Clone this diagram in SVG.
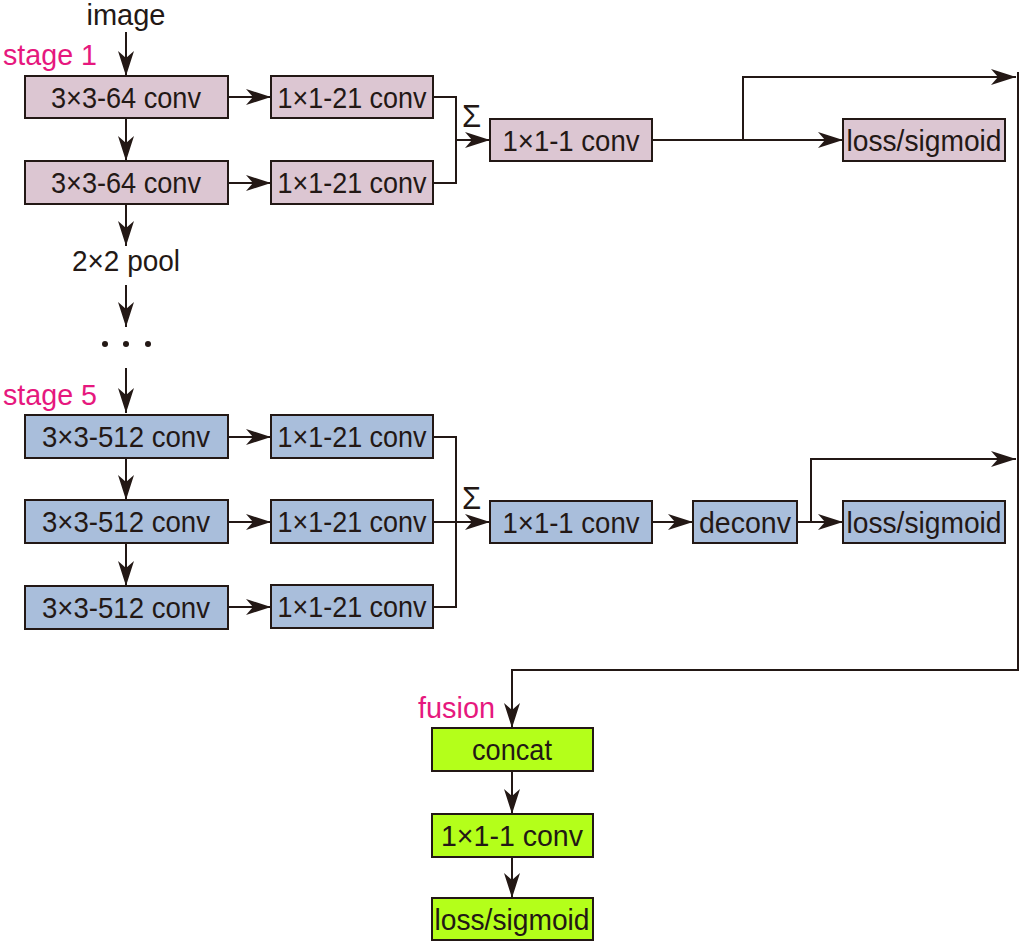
<svg xmlns="http://www.w3.org/2000/svg" width="1024" height="948" viewBox="0 0 1024 948">
<defs>
<marker id="ah" markerUnits="userSpaceOnUse" markerWidth="26" markerHeight="20" viewBox="0 0 26 20" refX="25" refY="10" orient="auto">
<path d="M0,2 L25,10 L0,18 L7,10 Z" fill="#231815"/>
</marker>
<style>
.pink{fill:#dcc6d2;stroke:#231815;stroke-width:2}
.blue{fill:#a9bedb;stroke:#231815;stroke-width:2}
.green{fill:#b4ff1a;stroke:#231815;stroke-width:2}
text{font-family:"Liberation Sans",Arial,sans-serif;font-size:30px;fill:#231815}
.t{text-anchor:middle}
.lab{fill:#e6187e}
.c{fill:none;stroke:#231815;stroke-width:2}
.a{marker-end:url(#ah)}
</style>
</defs>
<rect width="1024" height="948" fill="#ffffff"/>

<text class="t" x="126" y="25" textLength="79" lengthAdjust="spacingAndGlyphs">image</text>
<text class="lab" x="3" y="65" textLength="94" lengthAdjust="spacingAndGlyphs">stage 1</text>
<text class="lab" x="3" y="405" textLength="94" lengthAdjust="spacingAndGlyphs">stage 5</text>
<text class="lab" x="418" y="718" textLength="77" lengthAdjust="spacingAndGlyphs">fusion</text>
<text class="t" x="126" y="271" textLength="108" lengthAdjust="spacingAndGlyphs">2×2 pool</text>
<g id="dots" fill="#231815"><circle cx="105" cy="344" r="3"/><circle cx="126" cy="344" r="3"/><circle cx="148" cy="344" r="3"/></g>
<text x="462" y="127" style="font-size:31px">Σ</text>
<text x="462" y="509" style="font-size:31px">Σ</text>

<g id="connectors">
<path class="c a" d="M126,32 V76"/>
<path class="c a" d="M126,118 V161"/>
<path class="c a" d="M228,97 H271"/>
<path class="c a" d="M228,183 H271"/>
<path class="c" d="M433,97 H456 V183 H433"/>
<path class="c a" d="M456,140 H490"/>
<path class="c a" d="M652,140 H843"/>
<path class="c a" d="M743,140 V77 H1016"/>
<path class="c a" d="M126,204 V246"/>
<path class="c a" d="M126,285 V327"/>
<path class="c a" d="M126,368 V413"/>
<path class="c a" d="M126,458 V500"/>
<path class="c a" d="M126,543 V586"/>
<path class="c a" d="M228,437 H271"/>
<path class="c a" d="M228,522 H271"/>
<path class="c a" d="M228,607 H271"/>
<path class="c" d="M433,437 H456 V607 H433"/>
<path class="c a" d="M433,522 H490"/>
<path class="c a" d="M652,522 H693"/>
<path class="c a" d="M797,522 H843"/>
<path class="c a" d="M811,522 V459 H1016"/>
<path class="c a" d="M1018,72 V670 H512 V728"/>
<path class="c a" d="M512,771 V814"/>
<path class="c a" d="M512,857 V898"/>
</g>

<g id="s1_conv1"><rect class="pink" x="25" y="76" width="203" height="42"/><text class="t" x="126" y="108" textLength="150" lengthAdjust="spacingAndGlyphs">3×3-64 conv</text></g>
<g id="s1_conv2"><rect class="pink" x="25" y="161" width="203" height="43"/><text class="t" x="126" y="193" textLength="150" lengthAdjust="spacingAndGlyphs">3×3-64 conv</text></g>
<g id="s1_side1"><rect class="pink" x="271" y="76" width="162" height="42"/><text class="t" x="352" y="108" textLength="149" lengthAdjust="spacingAndGlyphs">1×1-21 conv</text></g>
<g id="s1_side2"><rect class="pink" x="271" y="161" width="162" height="43"/><text class="t" x="352" y="193" textLength="149" lengthAdjust="spacingAndGlyphs">1×1-21 conv</text></g>
<g id="s1_fuse"><rect class="pink" x="490" y="119" width="162" height="42"/><text class="t" x="571" y="151" textLength="137" lengthAdjust="spacingAndGlyphs">1×1-1 conv</text></g>
<g id="s1_loss"><rect class="pink" x="843" y="119" width="162" height="42"/><text class="t" x="924" y="151" textLength="155" lengthAdjust="spacingAndGlyphs">loss/sigmoid</text></g>

<g id="s5_conv1"><rect class="blue" x="25" y="415" width="203" height="43"/><text class="t" x="126" y="447" textLength="168" lengthAdjust="spacingAndGlyphs">3×3-512 conv</text></g>
<g id="s5_conv2"><rect class="blue" x="25" y="500" width="203" height="43"/><text class="t" x="126" y="532" textLength="168" lengthAdjust="spacingAndGlyphs">3×3-512 conv</text></g>
<g id="s5_conv3"><rect class="blue" x="25" y="586" width="203" height="43"/><text class="t" x="126" y="618" textLength="168" lengthAdjust="spacingAndGlyphs">3×3-512 conv</text></g>
<g id="s5_side1"><rect class="blue" x="271" y="415" width="162" height="43"/><text class="t" x="352" y="447" textLength="149" lengthAdjust="spacingAndGlyphs">1×1-21 conv</text></g>
<g id="s5_side2"><rect class="blue" x="271" y="500" width="162" height="43"/><text class="t" x="352" y="532" textLength="149" lengthAdjust="spacingAndGlyphs">1×1-21 conv</text></g>
<g id="s5_side3"><rect class="blue" x="271" y="585" width="162" height="43"/><text class="t" x="352" y="617" textLength="149" lengthAdjust="spacingAndGlyphs">1×1-21 conv</text></g>
<g id="s5_fuse"><rect class="blue" x="490" y="501" width="162" height="42"/><text class="t" x="571" y="533" textLength="137" lengthAdjust="spacingAndGlyphs">1×1-1 conv</text></g>
<g id="s5_deconv"><rect class="blue" x="693" y="501" width="104" height="42"/><text class="t" x="745" y="533" textLength="92" lengthAdjust="spacingAndGlyphs">deconv</text></g>
<g id="s5_loss"><rect class="blue" x="843" y="501" width="162" height="42"/><text class="t" x="924" y="533" textLength="155" lengthAdjust="spacingAndGlyphs">loss/sigmoid</text></g>

<g id="f_concat"><rect class="green" x="432" y="728" width="161" height="43"/><text class="t" x="512" y="760" textLength="80" lengthAdjust="spacingAndGlyphs">concat</text></g>
<g id="f_conv"><rect class="green" x="432" y="814" width="161" height="43"/><text class="t" x="512" y="846" textLength="142" lengthAdjust="spacingAndGlyphs">1×1-1 conv</text></g>
<g id="f_loss"><rect class="green" x="432" y="898" width="161" height="42"/><text class="t" x="512" y="930" textLength="155" lengthAdjust="spacingAndGlyphs">loss/sigmoid</text></g>
</svg>
